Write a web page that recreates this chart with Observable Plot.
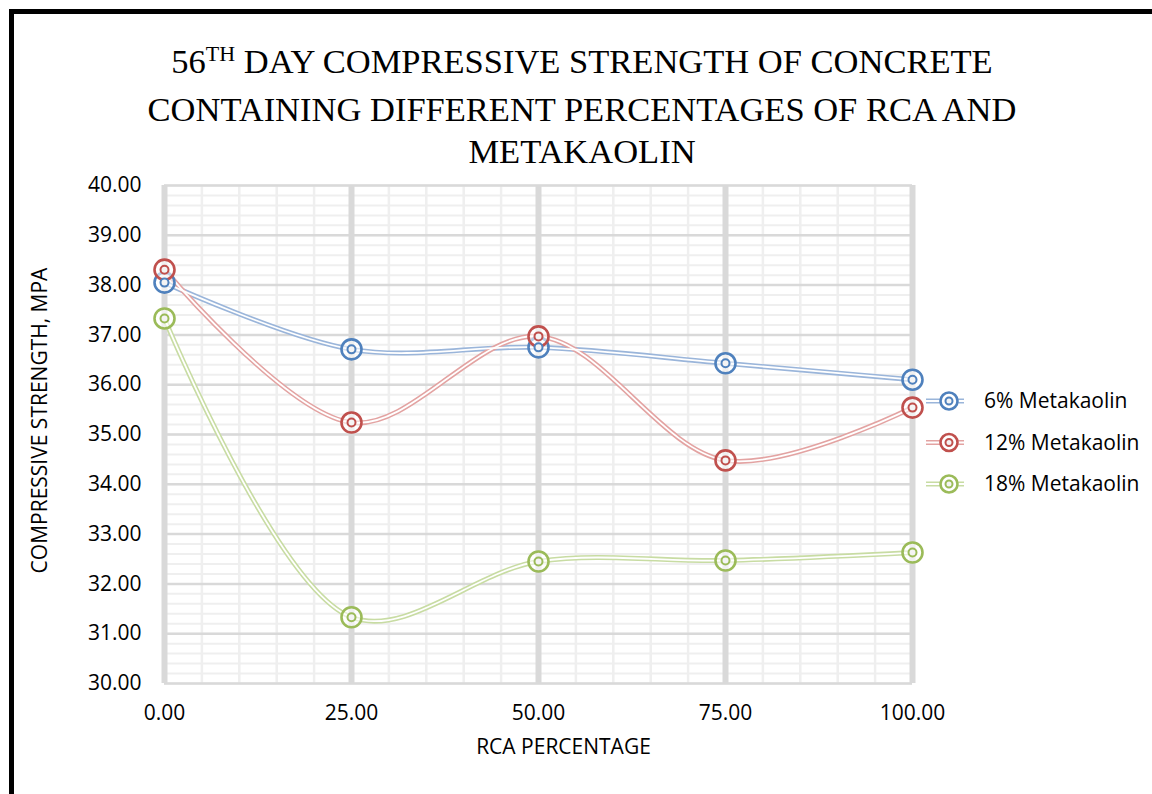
<!DOCTYPE html>
<html>
<head>
<meta charset="utf-8">
<script src="https://cdn.jsdelivr.net/npm/d3@7"></script>
<script src="https://cdn.jsdelivr.net/npm/@observablehq/plot@0.6"></script>
<style>
  body { margin: 0; background: #fff; width: 1152px; height: 794px; overflow: hidden; position: relative; }
  #frame { position: absolute; left: 9px; top: 9px; width: 1300px; height: 1000px;
           border-left: 5px solid #000; border-top: 5px solid #000; box-sizing: border-box; }
  #title { position: absolute; left: 0; top: 40px; width: 1164px; text-align: center;
           font-family: "Liberation Serif", serif; font-size: 34.5px; line-height: 42.5px; color: #000; }
  #title sup { font-size: 22px; vertical-align: 0; position: relative; top: -12px; }
  #chart { position: absolute; left: 0; top: 0; }
  #legend { position: absolute; left: 0; top: 0; }
</style>
</head>
<body>
<div id="frame"></div>
<div id="chart"></div>
<div id="title">56<sup>TH</sup> DAY COMPRESSIVE STRENGTH OF CONCRETE<br>CONTAINING DIFFERENT PERCENTAGES OF RCA AND<br>METAKAOLIN</div>
<svg id="legend" width="1152" height="794"></svg>
<script>
// RCA replacement levels (%)
const rca = [0, 25, 50, 75, 100];
// 56th-day compressive strength (MPa) for each metakaolin dosage
const mk6  = [38.05, 36.71, 36.75, 36.43, 36.10];
const mk12 = [38.31, 35.24, 36.97, 34.48, 35.54];
const mk18 = [37.33, 31.33, 32.45, 32.47, 32.63];
const seriesNames = ["6% Metakaolin", "12% Metakaolin", "18% Metakaolin"];
const seriesValues = [mk6, mk12, mk18];
const markerColors = ["#4f81bd", "#c0504d", "#9bbb59"];
const lineColors = ["#9ab5da", "#e3a3a2", "#c8dca3"];
const xTicks = [0, 25, 50, 75, 100];
const yTicks = [30, 31, 32, 33, 34, 35, 36, 37, 38, 39, 40];

const data = seriesNames.flatMap((name, i) =>
  rca.map((x, j) => ({series: name, rca: x, strength: seriesValues[i][j]})));

const fmt = d3.format(".2f");
const font = "'Open Sans', sans-serif";
const markerColor = d => markerColors[seriesNames.indexOf(d.series)];

const plot = Plot.plot({
  width: 1152,
  height: 794,
  marginLeft: 164,
  marginRight: 240,
  marginTop: 185,
  marginBottom: 111,
  style: {fontFamily: font, fontSize: "21px", color: "#000", background: "transparent"},
  x: {domain: [0, 100], ticks: xTicks},
  y: {domain: [30, 40], ticks: yTicks},
  color: {domain: seriesNames, range: lineColors},
  marks: [
    // minor gridlines
    Plot.ruleY(d3.range(30, 40.001, 0.2), {stroke: "#efefef", strokeWidth: 2}),
    Plot.ruleX(d3.range(0, 100.001, 5), {stroke: "#efefef", strokeWidth: 2.5}),
    // major gridlines
    Plot.ruleY(yTicks, {stroke: "#d9d9d9", strokeWidth: 2.5}),
    Plot.ruleX(xTicks, {stroke: "#d9d9d9", strokeWidth: 6}),
    // smoothed double lines
    Plot.line(data, {x: "rca", y: "strength", z: "series", stroke: "series",
      curve: "catmull-rom", strokeWidth: 5}),
    Plot.line(data, {x: "rca", y: "strength", z: "series", stroke: "#fff",
      curve: "catmull-rom", strokeWidth: 1.8}),
    // double-ring markers
    Plot.dot(data, {x: "rca", y: "strength", r: 10, fill: "#fff", fillOpacity: 0.6,
      stroke: markerColor, strokeWidth: 2.6}),
    Plot.dot(data, {x: "rca", y: "strength", r: 4, fill: "#f4f4f4",
      stroke: markerColor, strokeWidth: 2}),
    Plot.axisX({ticks: xTicks, tickSize: 0, tickPadding: 22, tickFormat: fmt, label: null}),
    Plot.axisY({ticks: yTicks, tickSize: 0, tickPadding: 23, tickFormat: fmt, label: null}),
    Plot.text(["RCA PERCENTAGE"], {frameAnchor: "bottom", dx: 25, dy: 70, fontSize: 21}),
    Plot.text(["COMPRESSIVE STRENGTH, MPA"], {frameAnchor: "left", textAnchor: "middle",
      dx: -124, dy: -14, rotate: -90, fontSize: 21})
  ]
});
document.getElementById("chart").appendChild(plot);

// legend
const lg = d3.select("#legend");
seriesNames.forEach((name, i) => {
  const y = 401 + i * 41.5;
  const g = lg.append("g");
  g.append("line").attr("x1", 926).attr("x2", 964).attr("y1", y).attr("y2", y)
    .attr("stroke", lineColors[i]).attr("stroke-width", 5);
  g.append("line").attr("x1", 926).attr("x2", 964).attr("y1", y).attr("y2", y)
    .attr("stroke", "#fff").attr("stroke-width", 1.8);
  g.append("circle").attr("cx", 949).attr("cy", y).attr("r", 8.5)
    .attr("fill", "#fff").attr("stroke", markerColors[i]).attr("stroke-width", 2.6);
  g.append("circle").attr("cx", 949).attr("cy", y).attr("r", 3.5)
    .attr("fill", "#f4f4f4").attr("stroke", markerColors[i]).attr("stroke-width", 2);
  g.append("text").attr("x", 984).attr("y", y).attr("dy", "0.35em")
    .attr("font-family", font).attr("font-size", 21).text(name);
});
</script>
</body>
</html>
